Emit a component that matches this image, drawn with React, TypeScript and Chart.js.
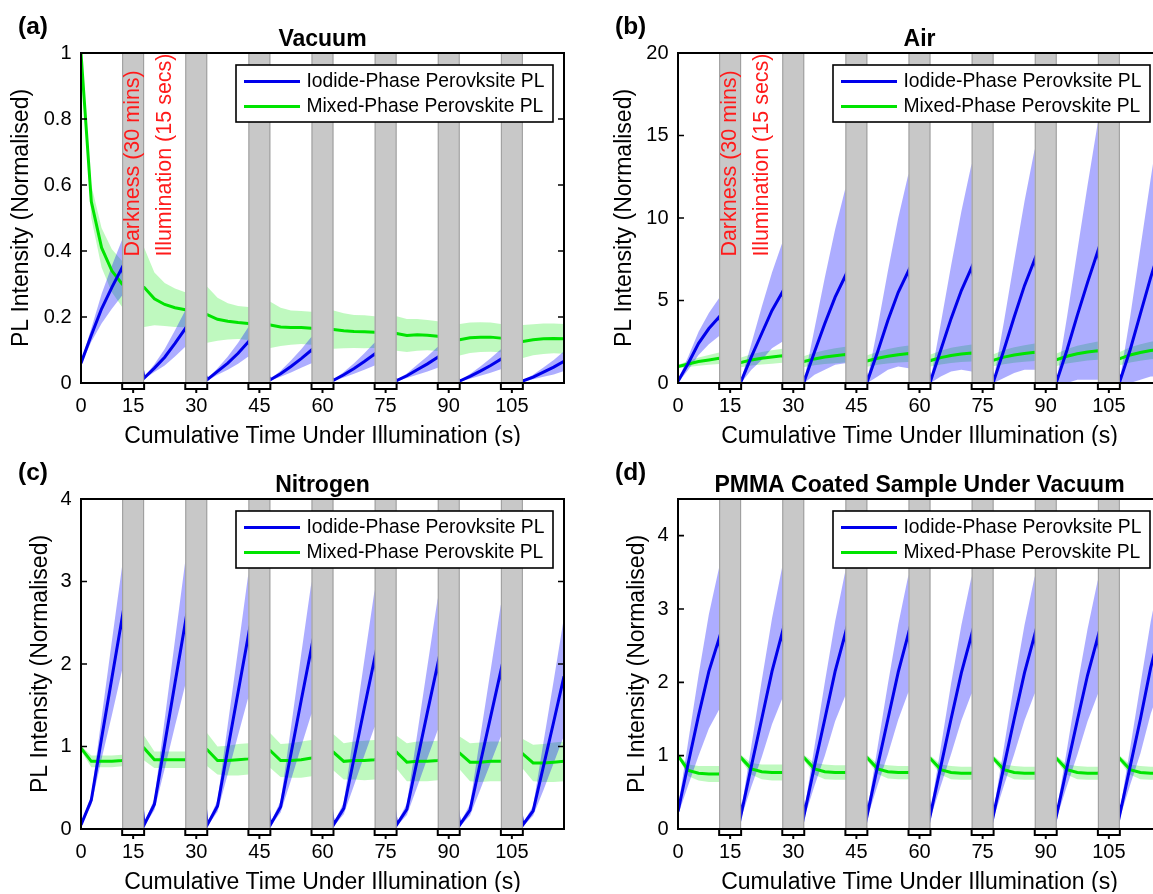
import React, { useEffect, useRef } from 'react';
import { Chart, registerables } from 'chart.js';
Chart.register(...registerables);

const FONT = "'Liberation Sans', Arial, Helvetica, sans-serif";

// sampling times (s) inside every 15 s illumination period
const segmentTimes = [0, 3.75, 7.5, 11.25, 15];
const illuminationSecs = 15;
const darkBreak = 8; // axis units used to draw each 30-min darkness break
const segmentCount = 8;

const xTickLabels = ['0', '15', '30', '45', '60', '75', '90', '105'];
const seriesLabels = ['Iodide-Phase Perovksite PL', 'Mixed-Phase Perovskite PL'];

const vacuumYTicks = [0, 0.2, 0.4, 0.6, 0.8, 1];
const airYTicks = [0, 5, 10, 15, 20];
const nitrogenYTicks = [0, 1, 2, 3, 4];
const pmmaYTicks = [0, 1, 2, 3, 4];

// (a) Vacuum
const vacIodideMean = [
  0.06, 0.145, 0.225, 0.29, 0.35,
  0.015, 0.045, 0.078, 0.12, 0.165,
  0.01, 0.035, 0.06, 0.09, 0.125,
  0.01, 0.028, 0.05, 0.074, 0.1,
  0.008, 0.025, 0.044, 0.065, 0.088,
  0.007, 0.022, 0.04, 0.058, 0.078,
  0.006, 0.02, 0.036, 0.053, 0.072,
  0.006, 0.018, 0.033, 0.048, 0.066,
];
const vacIodideSd = [
  0.005, 0.02, 0.045, 0.065, 0.085,
  0.003, 0.012, 0.025, 0.04, 0.055,
  0.003, 0.01, 0.02, 0.032, 0.045,
  0.003, 0.009, 0.018, 0.028, 0.04,
  0.002, 0.008, 0.016, 0.025, 0.035,
  0.002, 0.007, 0.015, 0.023, 0.032,
  0.002, 0.007, 0.014, 0.022, 0.03,
  0.002, 0.007, 0.014, 0.022, 0.03,
];
const vacMixedMean = [
  1.0, 0.55, 0.41, 0.34, 0.3,
  0.29, 0.255, 0.238, 0.228, 0.222,
  0.207, 0.193, 0.187, 0.183, 0.18,
  0.176, 0.17, 0.168, 0.168, 0.166,
  0.162, 0.158, 0.156, 0.155, 0.154,
  0.15, 0.144, 0.146, 0.145, 0.142,
  0.131, 0.137, 0.139, 0.139, 0.136,
  0.126, 0.131, 0.134, 0.135, 0.134,
];
const vacMixedSd = [
  0.005, 0.05, 0.06, 0.065, 0.07,
  0.12, 0.08, 0.065, 0.058, 0.053,
  0.085, 0.065, 0.055, 0.05, 0.05,
  0.07, 0.058, 0.052, 0.05, 0.05,
  0.058, 0.053, 0.05, 0.05, 0.048,
  0.052, 0.05, 0.048, 0.046, 0.045,
  0.048, 0.046, 0.045, 0.044, 0.043,
  0.05, 0.047, 0.046, 0.045, 0.045,
];

// (b) Air
const airIodideMean = [
  0.1, 1.2, 2.4, 3.3, 4.0,
  0.1, 1.6, 3.0, 4.4, 5.5,
  0.1, 1.9, 3.6, 5.2, 6.5,
  0.1, 1.9, 3.8, 5.5, 6.8,
  0.1, 2.0, 3.9, 5.6, 7.0,
  0.1, 2.0, 4.0, 5.9, 7.5,
  0.1, 2.0, 4.1, 6.1, 8.0,
  0.1, 2.0, 4.2, 6.4, 8.4,
];
const airIodideSd = [
  0.1, 0.4, 0.7, 0.95, 1.15,
  0.1, 0.8, 1.6, 2.3, 3.0,
  0.1, 1.4, 2.8, 4.1, 5.3,
  0.1, 1.5, 3.0, 4.5, 5.9,
  0.1, 1.6, 3.2, 4.8, 6.3,
  0.1, 1.7, 3.4, 5.1, 6.7,
  0.1, 2.0, 3.9, 5.9, 7.8,
  0.1, 2.0, 4.0, 6.0, 8.0,
];
const airMixedMean = [
  1.0, 1.15, 1.3, 1.4, 1.5,
  1.25, 1.4, 1.5, 1.58, 1.65,
  1.3, 1.46, 1.57, 1.65, 1.72,
  1.33, 1.5, 1.62, 1.71, 1.78,
  1.36, 1.54, 1.67, 1.76, 1.82,
  1.38, 1.57, 1.7, 1.79, 1.86,
  1.41, 1.62, 1.77, 1.88, 1.96,
  1.48, 1.7, 1.85, 1.97, 2.05,
];
const airMixedSd = [
  0.1, 0.18, 0.25, 0.3, 0.35,
  0.3, 0.34, 0.38, 0.41, 0.43,
  0.33, 0.38, 0.42, 0.45, 0.47,
  0.35, 0.4, 0.44, 0.47, 0.5,
  0.36, 0.42, 0.46, 0.49, 0.52,
  0.37, 0.43, 0.47, 0.5, 0.53,
  0.38, 0.44, 0.49, 0.52, 0.55,
  0.4, 0.46, 0.5, 0.53, 0.56,
];

// (c) Nitrogen
const n2IodideMean = [
  0.05, 0.35, 1.1, 1.83, 2.56,
  0.05, 0.3, 1.03, 1.77, 2.5,
  0.05, 0.28, 0.97, 1.66, 2.35,
  0.05, 0.27, 0.91, 1.56, 2.2,
  0.05, 0.25, 0.86, 1.47, 2.07,
  0.05, 0.24, 0.83, 1.42, 2.0,
  0.05, 0.23, 0.8, 1.36, 1.92,
  0.05, 0.22, 0.76, 1.3, 1.85,
];
const n2IodideSd = [
  0.02, 0.06, 0.25, 0.45, 0.63,
  0.02, 0.07, 0.3, 0.52, 0.75,
  0.02, 0.07, 0.3, 0.52, 0.75,
  0.02, 0.07, 0.32, 0.56, 0.8,
  0.02, 0.07, 0.33, 0.58, 0.83,
  0.02, 0.07, 0.32, 0.56, 0.8,
  0.02, 0.07, 0.32, 0.56, 0.8,
  0.02, 0.06, 0.29, 0.5, 0.72,
];
const n2MixedMean = [
  0.98, 0.82, 0.82, 0.82, 0.83,
  0.98, 0.84, 0.84, 0.84, 0.84,
  0.96, 0.83, 0.83, 0.84, 0.85,
  0.95, 0.83, 0.83, 0.84, 0.86,
  0.93, 0.82, 0.83, 0.83, 0.84,
  0.93, 0.81, 0.82, 0.82, 0.83,
  0.92, 0.81, 0.81, 0.82, 0.82,
  0.91, 0.8, 0.8, 0.81, 0.82,
];
const n2MixedSd = [
  0.03, 0.07, 0.07, 0.07, 0.07,
  0.15, 0.1, 0.1, 0.1, 0.1,
  0.2, 0.17, 0.18, 0.19, 0.19,
  0.21, 0.2, 0.21, 0.22, 0.22,
  0.22, 0.22, 0.23, 0.24, 0.24,
  0.2, 0.23, 0.24, 0.24, 0.24,
  0.2, 0.23, 0.24, 0.24, 0.24,
  0.18, 0.22, 0.23, 0.24, 0.24,
];

// (d) PMMA coated sample under vacuum
const pmmaIodideMean = [
  0.24, 0.9, 1.55, 2.15, 2.6,
  0.2, 0.86, 1.5, 2.15, 2.68,
  0.2, 0.86, 1.5, 2.15, 2.67,
  0.2, 0.86, 1.5, 2.14, 2.67,
  0.2, 0.85, 1.5, 2.13, 2.65,
  0.2, 0.85, 1.5, 2.13, 2.65,
  0.2, 0.84, 1.48, 2.1, 2.62,
  0.2, 0.85, 1.5, 2.2, 2.75,
];
const pmmaIodideSd = [
  0.05, 0.3, 0.55, 0.78, 0.97,
  0.05, 0.28, 0.52, 0.72, 0.9,
  0.05, 0.27, 0.5, 0.68, 0.85,
  0.05, 0.26, 0.48, 0.65, 0.8,
  0.05, 0.26, 0.48, 0.65, 0.8,
  0.05, 0.26, 0.48, 0.65, 0.8,
  0.05, 0.25, 0.47, 0.63, 0.78,
  0.05, 0.25, 0.47, 0.63, 0.78,
];
const pmmaMixedMean = [
  1.0, 0.8, 0.76, 0.75, 0.75,
  0.97, 0.82, 0.78, 0.77, 0.77,
  0.97, 0.82, 0.78, 0.77, 0.77,
  0.97, 0.82, 0.78, 0.77, 0.77,
  0.96, 0.81, 0.77, 0.76, 0.76,
  0.96, 0.81, 0.77, 0.76, 0.76,
  0.96, 0.81, 0.77, 0.76, 0.76,
  0.96, 0.81, 0.77, 0.76, 0.76,
];
const pmmaMixedSd = [
  0.02, 0.08, 0.1, 0.11, 0.11,
  0.04, 0.08, 0.1, 0.11, 0.11,
  0.04, 0.08, 0.1, 0.1, 0.1,
  0.04, 0.07, 0.09, 0.09, 0.09,
  0.04, 0.07, 0.09, 0.09, 0.09,
  0.04, 0.07, 0.09, 0.09, 0.09,
  0.04, 0.07, 0.09, 0.09, 0.09,
  0.04, 0.07, 0.09, 0.09, 0.09,
];

const BLUE = 'rgb(0,0,235)';
const GREEN = 'rgb(0,228,0)';
const BLUE_BAND = 'rgba(0,0,255,0.32)';
const GREEN_BAND = 'rgba(0,230,0,0.25)';

const period = illuminationSecs + darkBreak;
const axisMax = segmentCount * illuminationSecs + (segmentCount - 1) * darkBreak;
const xValues: number[] = [];
for (let k = 0; k < segmentCount; k++) {
  for (const t of segmentTimes) xValues.push(k * period + t);
}
// tick 0 at origin, then one tick at the centre of each darkness break
const xTickValues = [0];
for (let k = 0; k < segmentCount - 1; k++) xTickValues.push(k * period + illuminationSecs + darkBreak / 2);

const panels = [
  { letter: '(a)', title: 'Vacuum', yMax: 1, yTicks: vacuumYTicks, im: vacIodideMean, is: vacIodideSd, mm: vacMixedMean, ms: vacMixedSd, notes: true, noteY: 0.383, yTitlePad: 8.2, left: 0, top: 0 },
  { letter: '(b)', title: 'Air', yMax: 20, yTicks: airYTicks, im: airIodideMean, is: airIodideSd, mm: airMixedMean, ms: airMixedSd, notes: true, noteY: 7.66, yTitlePad: 14, left: 597, top: 0 },
  { letter: '(c)', title: 'Nitrogen', yMax: 4, yTicks: nitrogenYTicks, im: n2IodideMean, is: n2IodideSd, mm: n2MixedMean, ms: n2MixedSd, notes: false, noteY: 0, yTitlePad: 26.4, left: 0, top: 446 },
  { letter: '(d)', title: 'PMMA Coated Sample Under Vacuum', yMax: 4.5, yTicks: pmmaYTicks, im: pmmaIodideMean, is: pmmaIodideSd, mm: pmmaMixedMean, ms: pmmaMixedSd, notes: false, noteY: 0, yTitlePad: 26.8, left: 597, top: 446 },
];

const toPts = (vals: number[]) => vals.map((v, i) => ({ x: xValues[i], y: v }));
const plus = (m: number[], s: number[]) => m.map((v, i) => v + s[i]);
const minus = (m: number[], s: number[]) => m.map((v, i) => v - s[i]);

function makeDecor(p: any) {
  return {
    id: 'decor',
    afterDatasetsDraw(chart: any) {
      const { ctx, chartArea } = chart;
      const { left, right, top, bottom } = chartArea;
      const xs = chart.scales.x;
      const ys = chart.scales.y;
      ctx.save();
      // darkness breaks
      for (let k = 0; k < segmentCount - 1; k++) {
        const x0 = xs.getPixelForValue(k * period + illuminationSecs);
        const x1 = xs.getPixelForValue((k + 1) * period);
        ctx.fillStyle = '#c8c8c8';
        ctx.fillRect(x0, top, x1 - x0, bottom - top);
        ctx.strokeStyle = '#9c9c9c';
        ctx.lineWidth = 1;
        ctx.beginPath();
        ctx.moveTo(x0 + 0.5, top); ctx.lineTo(x0 + 0.5, bottom);
        ctx.moveTo(x1 - 0.5, top); ctx.lineTo(x1 - 0.5, bottom);
        ctx.stroke();
      }
      // annotations
      if (p.notes) {
        const notes = [
          { text: 'Darkness (30 mins)', x: illuminationSecs + darkBreak / 2 },
          { text: 'Illumination (15 secs)', x: period + 7.8 },
        ];
        ctx.fillStyle = '#ff1a1a';
        ctx.font = `21.5px ${FONT}`;
        ctx.textAlign = 'left';
        ctx.textBaseline = 'middle';
        for (const n of notes) {
          ctx.save();
          ctx.translate(xs.getPixelForValue(n.x), ys.getPixelForValue(p.noteY));
          ctx.rotate(-Math.PI / 2);
          ctx.fillText(n.text, 0, 0);
          ctx.restore();
        }
      }
      // legend
      const bw = 317, bh = 57;
      const bx = right - 11 - bw, by = top + 12;
      ctx.fillStyle = '#fff';
      ctx.fillRect(bx, by, bw, bh);
      ctx.strokeStyle = '#000';
      ctx.lineWidth = 1.6;
      ctx.strokeRect(bx, by, bw, bh);
      ctx.font = `19.3px ${FONT}`;
      ctx.textAlign = 'left';
      ctx.textBaseline = 'middle';
      [0, 1].forEach((i) => {
        const ds = chart.data.datasets[i];
        const cy = by + 16.5 + i * 25;
        ctx.strokeStyle = ds.borderColor;
        ctx.lineWidth = 3;
        ctx.beginPath();
        ctx.moveTo(bx + 8, cy); ctx.lineTo(bx + 64, cy);
        ctx.stroke();
        ctx.fillStyle = '#000';
        ctx.fillText(ds.label, bx + 70.5, cy);
      });
      // frame
      ctx.strokeStyle = '#000';
      ctx.lineWidth = 2;
      ctx.strokeRect(left, top, right - left, bottom - top);
      // inward y ticks on both sides
      ctx.lineWidth = 1.6;
      ctx.beginPath();
      p.yTicks.forEach((v: number) => {
        const py = ys.getPixelForValue(v);
        ctx.moveTo(left, py); ctx.lineTo(left + 6, py);
        ctx.moveTo(right, py); ctx.lineTo(right - 6, py);
      });
      ctx.stroke();
      // break brackets under the x axis
      ctx.lineWidth = 2;
      for (let k = 0; k < segmentCount - 1; k++) {
        const x0 = xs.getPixelForValue(k * period + illuminationSecs);
        const x1 = xs.getPixelForValue((k + 1) * period);
        const xc = xs.getPixelForValue(xTickValues[k + 1]);
        ctx.fillStyle = '#fff';
        ctx.fillRect(x0, bottom + 1, x1 - x0, 5);
        ctx.strokeRect(x0, bottom, x1 - x0, 6);
        ctx.beginPath();
        ctx.moveTo(xc, bottom + 6); ctx.lineTo(xc, bottom + 10);
        ctx.stroke();
      }
      // panel letter
      ctx.fillStyle = '#000';
      ctx.font = `bold 24.5px ${FONT}`;
      ctx.textAlign = 'left';
      ctx.textBaseline = 'middle';
      ctx.fillText(p.letter, 18, 27.5);
      ctx.restore();
    },
  };
}

function Panel({ p }: { p: any }) {
  const ref = useRef<HTMLCanvasElement>(null);
  useEffect(() => {
    const lineDs = (label: string, data: number[], color: string) => ({
      label, data: toPts(data), borderColor: color, borderWidth: 3, pointRadius: 0, fill: false, tension: 0,
    });
    const bandDs = (label: string, data: number[], fill: any, color: string) => ({
      label, data: toPts(data), borderColor: 'rgba(0,0,0,0)', borderWidth: 0, pointRadius: 0, fill, backgroundColor: color, tension: 0,
    });
    const chart = new Chart(ref.current as HTMLCanvasElement, {
      type: 'line',
      data: {
        datasets: [
          lineDs(seriesLabels[0], p.im, BLUE),
          lineDs(seriesLabels[1], p.mm, GREEN),
          bandDs('iodide upper', plus(p.im, p.is), false, BLUE_BAND),
          bandDs('iodide lower', minus(p.im, p.is), '-1', BLUE_BAND),
          bandDs('mixed upper', plus(p.mm, p.ms), false, GREEN_BAND),
          bandDs('mixed lower', minus(p.mm, p.ms), '-1', GREEN_BAND),
        ] as any,
      },
      options: {
        responsive: false,
        animation: false,
        devicePixelRatio: 1,
        events: [],
        layout: { padding: { left: 0, right: 16, top: 0, bottom: 0 } },
        plugins: {
          legend: { display: false },
          tooltip: { enabled: false },
          title: {
            display: true,
            text: p.title,
            fullSize: false,
            color: '#000',
            font: { family: FONT, size: 23, weight: 'bold', lineHeight: 1.2 },
            padding: { top: 25.4, bottom: 0 },
          },
        },
        scales: {
          x: {
            type: 'linear',
            min: 0,
            max: axisMax,
            afterFit: (s: any) => { s.height = 63; },
            afterBuildTicks: (s: any) => { s.ticks = xTickValues.map((v) => ({ value: v })); },
            ticks: {
              autoSkip: false, maxRotation: 0, minRotation: 0, padding: 11.5, color: '#000',
              font: { family: FONT, size: 20 },
              callback: (_v: any, i: number) => xTickLabels[i],
            },
            grid: { display: false, drawTicks: false },
            border: { display: false },
            title: {
              display: true, text: 'Cumulative Time Under Illumination (s)', color: '#000',
              font: { family: FONT, size: 23, lineHeight: 0.8 }, padding: 0,
            },
          },
          y: {
            type: 'linear',
            min: 0,
            max: p.yMax,
            afterFit: (s: any) => { s.width = 81; },
            afterBuildTicks: (s: any) => { s.ticks = p.yTicks.map((v: number) => ({ value: v })); },
            ticks: {
              padding: 9.5, color: '#000', font: { family: FONT, size: 20 },
              callback: (_v: any, i: number) => String(p.yTicks[i]),
            },
            grid: { display: false, drawTicks: false },
            border: { display: false },
            title: {
              display: true, text: 'PL Intensity (Normalised)', color: '#000',
              font: { family: FONT, size: 23, lineHeight: 1.2 }, padding: { top: p.yTitlePad, bottom: 0 },
            },
          },
        },
      } as any,
      plugins: [makeDecor(p)],
    });
    return () => chart.destroy();
  }, []);
  return (
    <canvas
      ref={ref}
      width={580}
      height={446}
      style={{ position: 'absolute', left: p.left, top: p.top, width: 580, height: 446 }}
    />
  );
}

export default function App() {
  return (
    <div style={{ position: 'fixed', left: 0, top: 0, width: 1153, height: 894, overflow: 'hidden', background: '#fff' }}>
      {panels.map((p) => <Panel key={p.letter} p={p} />)}
    </div>
  );
}
